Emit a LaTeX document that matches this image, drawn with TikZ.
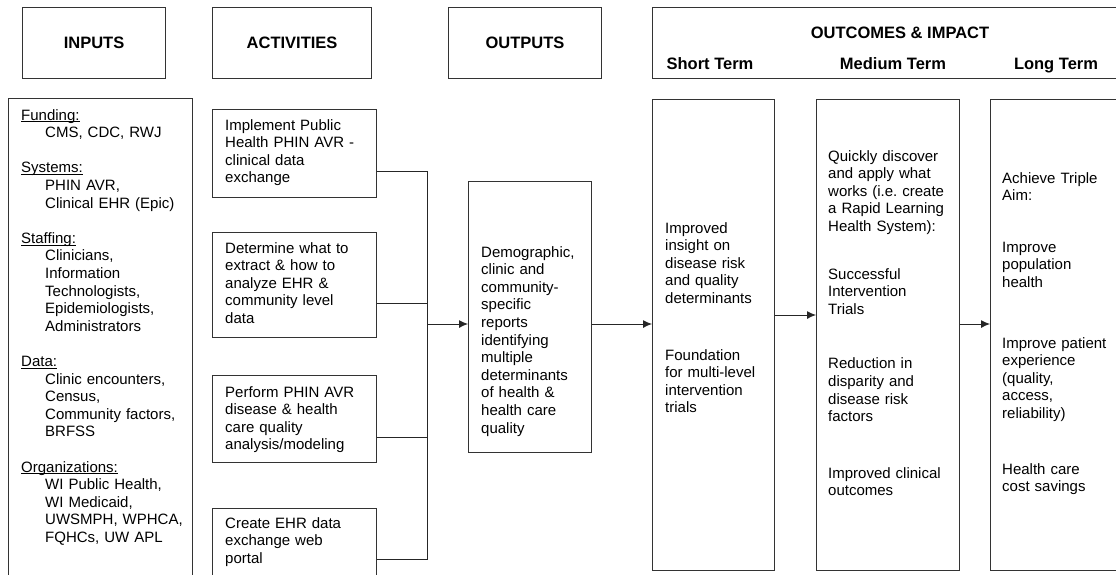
\documentclass[tikz,border=0pt]{standalone}
\usepackage{fontspec}
\setmainfont{Liberation Sans}
\usetikzlibrary{arrows.meta}
\frenchspacing

\newcommand\bodyfont{\fontsize{15}{17.6}\selectfont}
\newcommand\headfont{\fontsize{16.5}{19}\selectfont\bfseries}
\newcommand\indt{\hspace*{24pt}}
\newsavebox\undlbox
\newcommand\undl[1]{\leavevmode\sbox\undlbox{#1}\rlap{\rule[-2pt]{\wd\undlbox}{0.7pt}}\usebox\undlbox}

\begin{document}
\begin{tikzpicture}[x=1pt, y=-1pt,
	box/.style={draw=black!80, line width=1.1pt, anchor=north west, inner sep=0},
	head/.style={box, font=\headfont, minimum height=71pt},
	title/.style={font=\headfont, inner sep=0, anchor=base},
	txt/.style={anchor=base west, align=left, inner sep=0, text width=190pt, font=\bodyfont},
	link/.style={draw=black!85, line width=0.9pt},
	arr/.style={link, -{Latex[length=9pt,width=8pt]}}]
	\useasboundingbox (0,0) rectangle (1116,574);
	\clip (0,0) rectangle (1116,574);
	% headers
	\node[head, minimum width=143pt] (hin) at (22,7) {INPUTS};
	\node[head, minimum width=159pt] (hact) at (212,7) {ACTIVITIES};
	\node[head, minimum width=153pt] (hout) at (448,7) {OUTPUTS};
	\node[head, minimum width=500pt] (hoc) at (652,7) {};
	\node[title] (toc) at (900,38) {OUTCOMES \& IMPACT};
	\node[title] (tshort) at (710,69) {Short Term};
	\node[title] (tmed) at (893,69) {Medium Term};
	\node[title] (tlong) at (1056,69) {Long Term};
	% boxes
	\node[box, minimum width=184pt, minimum height=500pt] (inp) at (8,98) {};
	\node[box, minimum width=164pt, minimum height=88pt] (act1) at (212,109) {};
	\node[box, minimum width=164pt, minimum height=105pt] (act2) at (212,232) {};
	\node[box, minimum width=164pt, minimum height=87pt] (act3) at (212,375) {};
	\node[box, minimum width=164pt, minimum height=80pt] (act4) at (212,508) {};
	\node[box, minimum width=123pt, minimum height=271pt] (outp) at (468,181) {};
	\node[box, minimum width=122pt, minimum height=471pt] (short) at (652,99) {};
	\node[box, minimum width=143pt, minimum height=471pt] (med) at (816,99) {};
	\node[box, minimum width=150pt, minimum height=471pt] (long) at (990,99) {};
	% texts
	\node[txt] (inptxt) at (21,120) {\undl{Funding:}\\
		\indt CMS, CDC, RWJ\\[17.6pt]
		\undl{Systems:}\\
		\indt PHIN AVR,\\
		\indt Clinical EHR (Epic)\\[17.6pt]
		\undl{Staffing:}\\
		\indt Clinicians,\\
		\indt Information\\
		\indt Technologists,\\
		\indt Epidemiologists,\\
		\indt Administrators\\[17.6pt]
		\undl{Data:}\\
		\indt Clinic encounters,\\
		\indt Census,\\
		\indt Community factors,\\
		\indt BRFSS\\[17.6pt]
		\undl{Organizations:}\\
		\indt WI Public Health,\\
		\indt WI Medicaid,\\
		\indt UWSMPH, WPHCA,\\
		\indt FQHCs, UW APL};
	\node[txt] (act1txt) at (225,130) {Implement Public\\Health PHIN AVR -\\clinical data\\exchange};
	\node[txt] (act2txt) at (225,253) {Determine what to\\extract \& how to\\analyze EHR \&\\community level\\data};
	\node[txt] (act3txt) at (225,397) {Perform PHIN AVR\\disease \& health\\care quality\\analysis/modeling};
	\node[txt] (act4txt) at (225,528) {Create EHR data\\exchange web\\portal};
	\node[txt] (outtxt) at (481,257) {Demographic,\\clinic and\\community-\\specific\\reports\\identifying\\multiple\\determinants\\of health \&\\health care\\quality};
	\node[txt] (shorttxt) at (665,233) {Improved\\insight on\\disease risk\\and quality\\determinants\\[39pt]
		Foundation\\for multi-level\\intervention\\trials};
	\node[txt] (medtxt) at (828,161) {Quickly discover\\and apply what\\works (i.e. create\\a Rapid Learning\\Health System):\\[30pt]
		Successful\\Intervention\\Trials\\[37pt]
		Reduction in\\disparity and\\disease risk\\factors\\[39pt]
		Improved clinical\\outcomes};
	\node[txt] (longtxt) at (1002,183) {Achieve Triple\\Aim:\\[34pt]
		Improve\\population\\health\\[43pt]
		Improve patient\\experience\\(quality,\\access,\\reliability)\\[38pt]
		Health care\\cost savings};
	% connectors
	\coordinate (hub) at (427,324);
	\coordinate (lvl) at (700,315);
	\draw[link] ([yshift=-18pt]act1.east) -| (hub);
	\draw[link] ([yshift=-18pt]act2.east) -| (hub);
	\draw[link] ([yshift=-18pt]act3.east) -| (hub);
	\draw[link] (act4.east |- 0,559) -| (hub);
	\draw[arr] (hub) -- (outp.west |- hub);
	\draw[arr] (outp.east |- hub) -- (short.west |- hub);
	\draw[arr] (short.east |- lvl) -- (med.west |- lvl);
	\draw[arr] (med.east |- hub) -- (long.west |- hub);
\end{tikzpicture}
\end{document}
